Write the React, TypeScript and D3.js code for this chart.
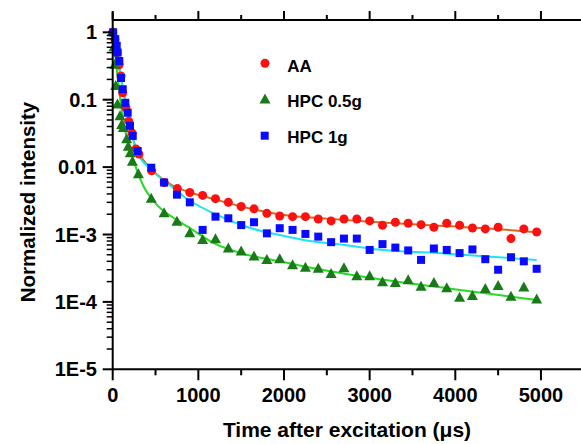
import React from "react";
import * as d3 from "d3";

type Pt = [number, number];

// Measured data points (time in µs, normalized intensity)
const AA_POINTS: Pt[] = [
  [0, 1.0], [25, 0.78], [50, 0.5], [75, 0.33], [97, 0.225], [117, 0.127], [155, 0.076],
  [187, 0.048], [225, 0.032], [272, 0.0186], [307, 0.0156], [455, 0.0088], [602, 0.0059],
  [755, 0.0048], [900, 0.0042], [1050, 0.0038], [1200, 0.0034], [1350, 0.003], [1500, 0.0026],
  [1650, 0.0024], [1800, 0.00206], [1950, 0.00188], [2100, 0.00184], [2250, 0.00184],
  [2400, 0.0017], [2550, 0.00159], [2700, 0.0017], [2850, 0.0017], [3000, 0.00159],
  [3150, 0.00137], [3300, 0.00152], [3450, 0.00147], [3600, 0.0014], [3750, 0.00128],
  [3900, 0.00147], [4050, 0.00137], [4200, 0.00125], [4350, 0.00121], [4500, 0.00128],
  [4650, 0.00087], [4800, 0.00121], [4950, 0.00109],
];

const HPC05_POINTS: Pt[] = [
  [0, 1.0], [15, 0.6], [25, 0.33], [35, 0.16], [55, 0.085], [85, 0.057], [105, 0.042],
  [124, 0.038], [163, 0.026], [182, 0.02], [205, 0.016], [230, 0.012], [300, 0.0078],
  [450, 0.0034], [600, 0.00206], [750, 0.00155], [900, 0.00104], [1050, 0.00083],
  [1200, 0.00085], [1350, 0.00062], [1500, 0.00056], [1650, 0.00047], [1800, 0.00042],
  [1950, 0.00043], [2100, 0.00035], [2250, 0.00032], [2400, 0.00031], [2550, 0.00026],
  [2700, 0.000315], [2850, 0.00024], [3000, 0.00024], [3150, 0.000196], [3300, 0.00019],
  [3450, 0.00021], [3600, 0.000168], [3750, 0.00019], [3900, 0.00016], [4050, 0.000115],
  [4200, 0.000122], [4350, 0.000155], [4500, 0.000172], [4650, 0.000119], [4800, 0.000163],
  [4950, 0.000109],
];

const HPC1_POINTS: Pt[] = [
  [5, 1.0], [30, 0.79], [47, 0.63], [58, 0.5], [77, 0.375], [97, 0.21], [117, 0.143],
  [147, 0.09], [175, 0.064], [202, 0.041], [234, 0.029], [292, 0.0173], [450, 0.0098],
  [600, 0.0059], [750, 0.0039], [900, 0.003], [1050, 0.00117], [1200, 0.00184],
  [1350, 0.00174], [1500, 0.00138], [1650, 0.00152], [1800, 0.00104], [1950, 0.00124],
  [2100, 0.00117], [2250, 0.00102], [2400, 0.00093], [2550, 0.00077], [2700, 0.00087],
  [2850, 0.00087], [3000, 0.00059], [3150, 0.00072], [3300, 0.00064], [3450, 0.00058],
  [3600, 0.00042], [3750, 0.00062], [3900, 0.00059], [4050, 0.00053], [4200, 0.0006],
  [4350, 0.00043], [4500, 0.0003], [4650, 0.00046], [4800, 0.0004], [4950, 0.00031],
];

// Fit curves
const AA_FIT: Pt[] = [
  [0, 1], [50, 0.45], [100, 0.2], [150, 0.095], [200, 0.045], [260, 0.021], [300, 0.0165],
  [455, 0.0092], [690, 0.0054], [880, 0.0043], [1200, 0.0033], [1500, 0.0026], [2000, 0.00195],
  [2500, 0.00172], [3000, 0.00155], [3500, 0.00142], [4000, 0.00131], [4500, 0.0012], [4950, 0.00108],
];
const HPC1_FIT: Pt[] = [
  [0, 1], [50, 0.5], [100, 0.2], [150, 0.09], [200, 0.043], [280, 0.017], [455, 0.0091],
  [690, 0.0051], [880, 0.0033], [1200, 0.002], [1560, 0.0013], [1950, 0.00098], [2300, 0.0008],
  [2700, 0.0007], [3100, 0.0006], [3900, 0.00052], [4950, 0.00042],
];
const HPC05_FIT: Pt[] = [
  [0, 1], [50, 0.26], [105, 0.07], [163, 0.027], [240, 0.013], [300, 0.0078], [360, 0.0052],
  [500, 0.0029], [700, 0.0018], [880, 0.0013], [1175, 0.00075], [1565, 0.0005], [1950, 0.0004],
  [2380, 0.00031], [3080, 0.00022], [3900, 0.00016], [4950, 0.000107],
];

const X_TICKS = [0, 1000, 2000, 3000, 4000, 5000];
const X_MINOR = [500, 1500, 2500, 3500, 4500, 5500];
const Y_TICKS = [1, 0.1, 0.01, 1e-3, 1e-4, 1e-5];
const Y_LABELS = ["1", "0.1", "0.01", "1E-3", "1E-4", "1E-5"];
const LEGEND = ["AA", "HPC 0.5g", "HPC 1g"];

const W = 581;
const H = 444;
const FONT = "'Liberation Sans', Arial, sans-serif";

export default function App() {
  const left = 112.7;
  const top = 20;
  const bottom = 369.3;
  const x = d3.scaleLinear().domain([0, 5500]).range([left, left + 5500 * 0.08565]);
  const y = d3.scaleLog().domain([1e-5, Math.pow(10, (32.3 - 20) / 67.4)]).range([bottom, top]);

  const line = d3
    .line<Pt>()
    .x((d) => x(d[0]))
    .y((d) => y(d[1]))
    .curve(d3.curveMonotoneX);

  const minorY: number[] = [];
  for (let e = -5; e < 0; e++) {
    for (let m = 2; m <= 9; m++) minorY.push(m * Math.pow(10, e));
  }

  const tri = (cx: number, cy: number, s: number) =>
    `M${cx},${cy - s * 0.6}L${cx + s * 0.55},${cy + s * 0.4}L${cx - s * 0.55},${cy + s * 0.4}Z`;

  const rightEnd = W + 5;

  return (
    <svg
      width={W}
      height={H}
      style={{ position: "absolute", left: 0, top: 0, background: "#fff" }}
      fontFamily={FONT}
    >
      <rect x={0} y={0} width={W} height={H} fill="#fff" />

      {/* fit lines */}
      <path d={line(AA_FIT) || ""} fill="none" stroke="#d2691e" strokeWidth={2} />
      <path d={line(HPC1_FIT) || ""} fill="none" stroke="#1fe3f2" strokeWidth={2} />
      <path d={line(HPC05_FIT) || ""} fill="none" stroke="#22dd22" strokeWidth={2} />

      {/* markers */}
      {AA_POINTS.map((d, i) => (
        <circle key={"a" + i} cx={x(d[0])} cy={y(d[1])} r={4.5} fill="#ff1010" />
      ))}
      {HPC05_POINTS.map((d, i) => (
        <path key={"g" + i} d={tri(x(d[0]), y(d[1]), 10)} fill="#1a7a1a" />
      ))}
      {HPC1_POINTS.map((d, i) => (
        <rect key={"b" + i} x={x(d[0]) - 4} y={y(d[1]) - 4} width={8} height={8} fill="#0a0aff" />
      ))}

      {/* axes */}
      <g stroke="#000" strokeWidth={2}>
        <line x1={left} y1={top} x2={rightEnd} y2={top} />
        <line x1={left} y1={top - 8} x2={left} y2={bottom + 1} />
        <line x1={left - 1} y1={bottom} x2={rightEnd} y2={bottom} />
        {X_TICKS.map((t) => (
          <g key={"xt" + t}>
            <line x1={x(t)} y1={bottom} x2={x(t)} y2={bottom + 11} />
            <line x1={x(t)} y1={top} x2={x(t)} y2={top - 9} />
          </g>
        ))}
        {X_MINOR.map((t) => (
          <g key={"xm" + t}>
            <line x1={x(t)} y1={bottom} x2={x(t)} y2={bottom + 6} />
            <line x1={x(t)} y1={top} x2={x(t)} y2={top - 5} />
          </g>
        ))}
        {Y_TICKS.map((v) => (
          <line key={"yt" + v} x1={left} y1={y(v)} x2={left - 10} y2={y(v)} />
        ))}
        {minorY.map((v, i) => (
          <line key={"ym" + i} x1={left} y1={y(v)} x2={left - 6} y2={y(v)} strokeWidth={1.5} />
        ))}
      </g>

      {/* tick labels */}
      <g fontSize={20} fontWeight="bold" fill="#000">
        {X_TICKS.map((t) => (
          <text key={"xl" + t} x={x(t)} y={402} textAnchor="middle">
            {t}
          </text>
        ))}
        {Y_TICKS.map((v, i) => (
          <text key={"yl" + v} x={97} y={y(v) + 7} textAnchor="end">
            {Y_LABELS[i]}
          </text>
        ))}
      </g>

      {/* axis titles */}
      <text x={347} y={437} textAnchor="middle" fontSize={21} fontWeight="bold">
        Time after excitation (μs)
      </text>
      <text
        transform="translate(35,202) rotate(-90)"
        textAnchor="middle"
        fontSize={20.5}
        fontWeight="bold"
      >
        Normalized intensity
      </text>

      {/* legend */}
      <circle cx={265} cy={63.3} r={4.5} fill="#ff1010" />
      <path d={tri(265, 99.5, 10)} fill="#1a7a1a" />
      <rect x={260.7} y={131.7} width={8} height={8} fill="#0a0aff" />
      <g fontSize={17} fontWeight="bold">
        <text x={287.3} y={71.7}>{LEGEND[0]}</text>
        <text x={287.3} y={106.5}>{LEGEND[1]}</text>
        <text x={287.3} y={142.7}>{LEGEND[2]}</text>
      </g>
    </svg>
  );
}
